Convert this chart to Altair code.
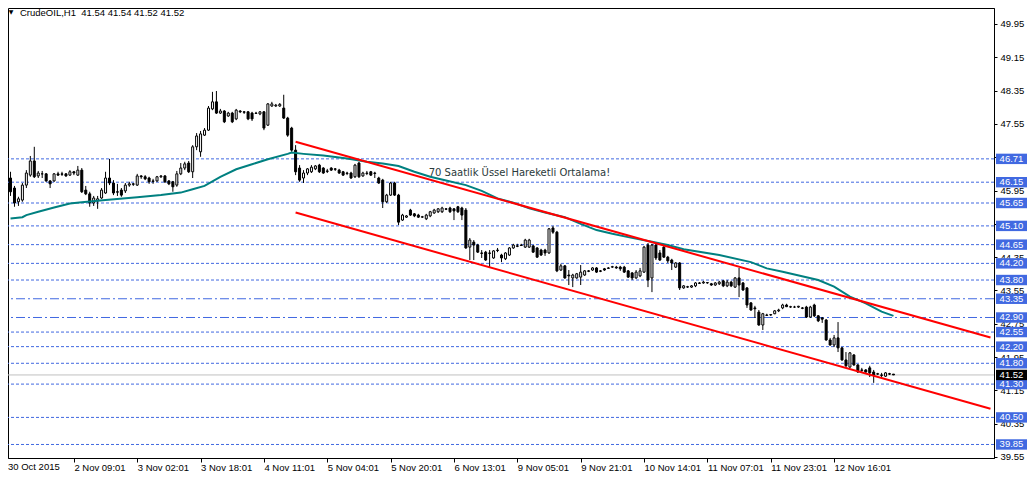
import altair as alt
import pandas as pd

# ---------------- data ----------------
opens = [
    46.25, 46.01, 45.68, 45.72, 46.08, 46.32, 46.66, 46.30, 46.35, 46.35,
    46.18, 46.18, 46.35, 46.35, 46.35, 46.32, 46.40, 46.32, 46.44, 45.96,
    45.87, 45.65, 45.70, 45.77, 45.89, 46.25, 46.13, 45.92, 45.96, 45.94,
    46.08, 46.11, 46.08, 46.30, 46.28, 46.25, 46.18, 46.18, 46.28, 46.30,
    46.18, 46.16, 46.08, 46.35, 46.49, 46.61, 46.40, 47.00, 46.88, 47.28,
    47.40, 47.91, 48.08, 47.81, 47.86, 47.74, 47.81, 47.67, 47.86, 47.84,
    47.84, 47.81, 47.81, 47.79, 47.84, 47.52, 47.98, 47.98, 47.98, 47.93,
    47.69, 47.45, 46.92, 46.49, 46.25, 46.37, 46.40, 46.47, 46.56, 46.49,
    46.42, 46.49, 46.47, 46.44, 46.40, 46.37, 46.37, 46.28, 46.61, 46.30,
    46.37, 46.40, 46.37, 46.25, 46.20, 45.68, 45.84, 46.13, 45.84, 45.24,
    45.31, 45.48, 45.39, 45.36, 45.31, 45.27, 45.34, 45.41, 45.44, 45.44,
    45.51, 45.53, 45.51, 45.56, 45.53, 45.48, 44.59, 44.71, 44.64, 44.45,
    44.47, 44.45, 44.33, 44.52, 44.40, 44.31, 44.40, 44.57, 44.62, 44.64,
    44.59, 44.59, 44.62, 44.57, 44.52, 44.52, 44.45, 45.05, 44.95, 44.04,
    44.14, 43.92, 43.85, 43.85, 43.87, 43.92, 44.02, 44.04, 44.09, 44.02,
    44.07, 44.09, 44.11, 44.11, 44.11, 44.11, 44.02, 43.97, 43.85, 43.90,
    43.99, 44.64, 43.85, 44.64, 44.45, 44.59, 44.35, 44.28, 44.11, 44.21,
    43.61, 43.63, 43.63, 43.66, 43.73, 43.73, 43.73, 43.71, 43.68, 43.71,
    43.78, 43.66, 43.75, 43.63, 43.85, 43.73, 43.61, 43.25, 43.13, 43.03,
    42.72, 42.96, 42.96, 42.99, 43.06, 43.13, 43.20, 43.15, 43.15, 43.15,
    43.13, 43.15, 42.91, 43.20, 42.94, 42.89, 42.84, 42.36, 42.24, 42.41,
    42.17, 41.88, 41.71, 42.00, 41.76, 41.64, 41.64, 41.69, 41.59, 41.54,
    41.52, 41.49, 41.55, 41.54,
]
highs = [
    46.40, 46.06, 45.80, 46.13, 46.44, 46.78, 47.00, 46.42, 46.42, 46.37,
    46.20, 46.37, 46.40, 46.40, 46.37, 46.44, 46.42, 46.54, 46.49, 46.06,
    45.92, 45.82, 45.82, 46.01, 46.40, 46.71, 46.20, 46.11, 46.01, 46.13,
    46.16, 46.13, 46.35, 46.32, 46.32, 46.28, 46.23, 46.30, 46.32, 46.32,
    46.20, 46.18, 46.42, 46.61, 46.64, 46.66, 47.04, 47.33, 47.38, 47.45,
    47.98, 48.32, 48.34, 47.91, 47.88, 47.84, 47.84, 47.91, 47.88, 47.86,
    47.86, 47.84, 47.84, 47.86, 47.86, 48.05, 48.08, 48.03, 48.05, 48.25,
    47.72, 47.48, 47.04, 46.56, 46.44, 46.49, 46.56, 46.56, 46.59, 46.51,
    46.47, 46.51, 46.49, 46.47, 46.42, 46.40, 46.40, 46.59, 46.64, 46.40,
    46.42, 46.42, 46.40, 46.28, 46.23, 45.87, 46.16, 46.16, 45.87, 45.39,
    45.36, 45.51, 45.41, 45.39, 45.34, 45.39, 45.46, 45.51, 45.53, 45.56,
    45.53, 45.56, 45.53, 45.58, 45.56, 45.53, 44.81, 44.76, 44.67, 44.52,
    44.50, 44.52, 44.52, 44.57, 44.43, 44.47, 44.59, 44.67, 44.67, 44.67,
    44.79, 44.79, 44.64, 44.59, 44.55, 44.55, 45.05, 45.10, 44.98, 44.19,
    44.16, 44.04, 43.95, 43.97, 44.16, 44.04, 44.04, 44.11, 44.11, 44.04,
    44.09, 44.11, 44.14, 44.14, 44.14, 44.14, 44.04, 43.99, 44.04, 44.09,
    44.62, 44.69, 44.67, 44.67, 44.52, 44.64, 44.38, 44.31, 44.23, 44.23,
    43.68, 43.66, 43.68, 43.75, 43.75, 43.78, 43.75, 43.73, 43.75, 43.78,
    43.80, 43.80, 43.78, 43.87, 44.09, 43.75, 43.63, 43.27, 43.18, 43.08,
    43.01, 42.99, 42.98, 43.08, 43.11, 43.23, 43.23, 43.18, 43.18, 43.18,
    43.15, 43.18, 43.18, 43.23, 42.96, 42.91, 42.86, 42.41, 42.48, 42.79,
    42.19, 42.07, 42.07, 42.02, 41.78, 41.69, 41.66, 41.74, 41.64, 41.57,
    41.57, 41.59, 41.57, 41.54,
]
lows = [
    45.82, 45.56, 45.58, 45.68, 46.01, 46.28, 46.25, 46.25, 46.25, 46.16,
    46.01, 46.16, 46.30, 46.30, 46.28, 46.30, 46.32, 46.30, 45.89, 45.84,
    45.56, 45.58, 45.51, 45.75, 45.87, 46.08, 45.84, 45.82, 45.80, 45.89,
    46.04, 46.06, 46.06, 46.23, 46.20, 46.11, 46.11, 46.16, 46.25, 46.13,
    46.08, 45.92, 46.04, 46.32, 46.44, 46.37, 46.25, 46.92, 46.76, 47.26,
    47.38, 47.88, 47.79, 47.79, 47.57, 47.72, 47.57, 47.64, 47.81, 47.79,
    47.64, 47.62, 47.79, 47.76, 47.40, 47.50, 47.96, 47.96, 47.96, 47.67,
    47.24, 46.88, 46.32, 46.16, 46.13, 46.32, 46.37, 46.44, 46.37, 46.35,
    46.37, 46.42, 46.42, 46.35, 46.30, 46.32, 46.23, 46.25, 46.25, 46.28,
    46.32, 46.30, 46.25, 46.11, 45.53, 45.65, 45.82, 45.82, 45.12, 45.22,
    45.29, 45.34, 45.31, 45.29, 45.29, 45.24, 45.31, 45.39, 45.41, 45.41,
    45.48, 45.41, 45.24, 45.41, 45.24, 44.55, 44.28, 44.28, 44.45, 44.33,
    44.26, 44.11, 44.31, 44.47, 44.23, 44.28, 44.38, 44.55, 44.59, 44.62,
    44.57, 44.57, 44.45, 44.33, 44.38, 44.38, 44.43, 44.91, 43.99, 44.02,
    43.83, 43.68, 43.63, 43.83, 43.68, 43.90, 43.99, 44.02, 43.97, 43.99,
    44.02, 44.07, 44.09, 44.07, 44.02, 43.97, 43.85, 43.80, 43.83, 43.87,
    43.97, 43.63, 43.51, 44.28, 44.26, 44.33, 44.21, 44.04, 44.09, 43.56,
    43.59, 43.61, 43.61, 43.63, 43.71, 43.71, 43.71, 43.66, 43.66, 43.68,
    43.63, 43.63, 43.63, 43.61, 43.39, 43.54, 43.13, 43.06, 42.89, 42.70,
    42.60, 42.94, 42.94, 42.98, 43.03, 43.10, 43.15, 43.13, 43.13, 43.13,
    43.10, 42.89, 42.89, 42.91, 42.79, 42.77, 42.34, 42.22, 42.19, 42.07,
    41.86, 41.69, 41.69, 41.74, 41.57, 41.59, 41.57, 41.47, 41.33, 41.52,
    41.47, 41.47, 41.52, 41.52,
]
closes = [
    45.92, 45.65, 45.75, 46.08, 46.37, 46.66, 46.28, 46.37, 46.35, 46.18,
    46.11, 46.35, 46.32, 46.34, 46.30, 46.40, 46.37, 46.44, 45.92, 45.87,
    45.65, 45.77, 45.75, 45.96, 46.25, 46.13, 45.89, 45.91, 45.84, 46.08,
    46.11, 46.10, 46.30, 46.28, 46.23, 46.16, 46.17, 46.28, 46.30, 46.16,
    46.11, 46.04, 46.35, 46.49, 46.59, 46.40, 47.00, 47.26, 47.31, 47.40,
    47.93, 48.08, 47.81, 47.86, 47.60, 47.81, 47.60, 47.88, 47.84, 47.83,
    47.67, 47.67, 47.80, 47.84, 47.45, 48.03, 48.03, 48.00, 48.02, 47.69,
    47.28, 46.92, 46.40, 46.20, 46.37, 46.47, 46.51, 46.54, 46.40, 46.37,
    46.41, 46.44, 46.46, 46.37, 46.32, 46.36, 46.25, 46.56, 46.28, 46.37,
    46.36, 46.32, 46.36, 46.13, 45.68, 45.84, 46.13, 45.84, 45.19, 45.36,
    45.34, 45.36, 45.34, 45.31, 45.32, 45.36, 45.44, 45.48, 45.51, 45.53,
    45.50, 45.44, 45.46, 45.44, 45.36, 44.57, 44.76, 44.64, 44.47, 44.44,
    44.28, 44.44, 44.50, 44.51, 44.33, 44.45, 44.57, 44.64, 44.61, 44.63,
    44.76, 44.76, 44.47, 44.35, 44.40, 44.45, 45.03, 44.95, 44.02, 44.14,
    43.85, 43.90, 43.92, 43.95, 43.99, 44.02, 44.01, 44.09, 43.99, 44.01,
    44.04, 44.08, 44.12, 44.09, 44.07, 43.99, 43.87, 43.85, 43.99, 44.02,
    44.59, 43.80, 44.64, 44.33, 44.28, 44.35, 44.26, 44.21, 44.21, 43.61,
    43.66, 43.64, 43.66, 43.73, 43.72, 43.75, 43.74, 43.68, 43.73, 43.75,
    43.66, 43.75, 43.66, 43.85, 43.68, 43.56, 43.20, 43.08, 43.11, 42.72,
    42.99, 42.95, 42.97, 43.06, 43.08, 43.20, 43.16, 43.16, 43.15, 43.17,
    43.12, 42.91, 43.15, 42.94, 42.82, 42.86, 42.36, 42.24, 42.41, 42.17,
    41.88, 41.74, 42.05, 41.76, 41.59, 41.63, 41.59, 41.57, 41.52, 41.55,
    41.51, 41.57, 41.54, 41.52,
]

# 70-period EMA (bar index, price)
ema_bars = [0, 3, 4, 7, 11, 15, 18, 24, 32, 38, 43, 46, 49, 53, 57, 61, 65, 70,
            71, 74, 79, 85, 90, 94, 98, 102, 106, 110, 115, 119, 123, 127, 131,
            135, 140, 144, 148, 152, 156, 162, 166, 170, 179, 187, 191, 195, 204,
            208, 212, 216, 220, 223]
ema_vals = [45.28, 45.31, 45.36, 45.44, 45.54, 45.64, 45.67, 45.72, 45.79, 45.84,
            45.90, 45.98, 46.06, 46.28, 46.46, 46.58, 46.70, 46.83, 46.86, 46.83,
            46.79, 46.72, 46.64, 46.60, 46.54, 46.40, 46.28, 46.19, 46.08, 45.94,
            45.76, 45.66, 45.52, 45.42, 45.31, 45.15, 45.00, 44.91, 44.83, 44.72,
            44.64, 44.54, 44.40, 44.23, 44.08, 44.00, 43.80, 43.64, 43.40, 43.24,
            43.04, 42.94]

# trend channel end points (bar index, price)
upper_bars = [72, 247.5]
upper_vals = [47.12, 42.42]
lower_bars = [72, 247.5]
lower_vals = [45.42, 40.71]

# horizontal levels
dotted_levels = [46.71, 46.15, 45.65, 45.10, 44.65, 44.20, 43.80,
                 42.55, 42.20, 41.80, 41.30, 40.50, 39.85]
dashdot_levels = [43.35, 42.90]
current_price = 41.52

# axes
y_ticks = [49.95, 49.15, 48.35, 47.55, 46.75, 45.95, 45.15, 44.35,
           43.55, 42.75, 41.95, 41.15, 40.35, 39.55]
x_tick_bars = [16, 32, 48, 64, 80, 96, 112, 128, 144, 160, 176, 192, 208]
x_tick_labels = ["2 Nov 09:01", "3 Nov 02:01", "3 Nov 18:01",
                 "4 Nov 11:01", "5 Nov 04:01", "5 Nov 20:01", "6 Nov 13:01",
                 "9 Nov 05:01", "9 Nov 21:01", "10 Nov 14:01", "11 Nov 07:01",
                 "11 Nov 23:01", "12 Nov 16:01"]
first_label = "30 Oct 2015"

title_text = "CrudeOIL,H1\u00a0\u00a041.54 41.54 41.52 41.52"
note_text = "70 Saatlik Üssel Hareketli Ortalama!"
note_bar = 105.6
note_price = 46.37

# ---------------- chart ----------------
W, H = 986, 450
FONT = "Liberation Sans"
BLUE = "#4169E1"

xscale = alt.Scale(domain=[0.625, 247.125], nice=False, zero=False)
yscale = alt.Scale(domain=[39.525, 50.334], nice=False, zero=False)

label_js = "[" + ",".join("'" + s + "'" for s in x_tick_labels) + "]"
xaxis = alt.Axis(values=x_tick_bars, labelExpr=label_js + "[round(datum.value/16) - 1]",
                 labelAlign="left", labelBaseline="top", labelPadding=0,
                 tickSize=4, grid=False, title=None, labelOverlap=False,
                 labelFlush=False, labelBound=False)
yaxis = alt.Axis(orient="right", values=y_ticks, format=".2f", tickSize=3,
                 labelPadding=3, grid=False, title=None, labelOverlap=False,
                 labelFlush=False, labelBound=False)


def X(f):
    return alt.X(f, type="quantitative", scale=xscale, axis=xaxis)


def Y(f):
    return alt.Y(f, type="quantitative", scale=yscale, axis=yaxis)


candles = pd.DataFrame({"bar": list(range(len(closes))), "open": opens,
                        "high": highs, "low": lows, "close": closes})

lv = pd.DataFrame({"price": dotted_levels})
dd = pd.DataFrame({"price": dashdot_levels})
cur = pd.DataFrame({"price": [current_price]})

level_layer = alt.Chart(lv).mark_rule(color=BLUE, strokeWidth=1, strokeDash=[3, 2]).encode(y=Y("price"))
dashdot_layer = alt.Chart(dd).mark_rule(color=BLUE, strokeWidth=1, strokeDash=[9, 3, 2, 3]).encode(y=Y("price"))
cur_layer = alt.Chart(cur).mark_rule(color="#C0C0C0", strokeWidth=1).encode(y=Y("price"))

wicks = alt.Chart(candles).mark_rule(color="black", strokeWidth=1, clip=True).encode(
    x=X("bar"), y=Y("low"), y2="high:Q")
bodies = alt.Chart(candles).mark_bar(size=2, stroke="black", strokeWidth=1, clip=True).encode(
    x=X("bar"), y=Y("open"), y2="close:Q",
    fill=alt.condition("datum.close >= datum.open", alt.value("white"), alt.value("black")))

ema_df = pd.DataFrame({"bar": ema_bars, "price": ema_vals})
ema_layer = alt.Chart(ema_df).mark_line(color="#008080", strokeWidth=2, clip=True).encode(
    x=X("bar"), y=Y("price"))

trend_df = pd.DataFrame({"bar": upper_bars + lower_bars,
                         "price": upper_vals + lower_vals,
                         "line": ["upper", "upper", "lower", "lower"]})
trend_layer = alt.Chart(trend_df).mark_line(color="#FF0000", strokeWidth=2, clip=True).encode(
    x=X("bar"), y=Y("price"), detail="line:N")

note_df = pd.DataFrame({"bar": [note_bar], "price": [note_price], "t": [note_text]})
note_layer = alt.Chart(note_df).mark_text(align="left", baseline="middle", font="DejaVu Sans",
                                          fontSize=10, color="#2B3A3A").encode(
    x=X("bar"), y=Y("price"), text="t:N")

box_df = pd.DataFrame({"price": dotted_levels + dashdot_levels})
boxes = alt.Chart(box_df).transform_calculate(
    top="datum.price + 0.125", bot="datum.price - 0.125"
).mark_rect(color=BLUE, clip=False).encode(
    x=alt.value(W + 2), x2=alt.value(W + 33), y=Y("top"), y2="bot:Q")
box_text = alt.Chart(box_df).mark_text(color="white", font=FONT, fontSize=9.5,
                                       align="center", baseline="middle", clip=False).encode(
    x=alt.value(W + 17.5), y=Y("price"), text=alt.Text("price:Q", format=".2f"))

cur_box = alt.Chart(cur).transform_calculate(
    top="datum.price + 0.125", bot="datum.price - 0.125"
).mark_rect(color="black", clip=False).encode(
    x=alt.value(W + 2), x2=alt.value(W + 33), y=Y("top"), y2="bot:Q")
cur_text = alt.Chart(cur).mark_text(color="white", font=FONT, fontSize=9.5,
                                    align="center", baseline="middle", clip=False).encode(
    x=alt.value(W + 17.5), y=Y("price"), text=alt.Text("price:Q", format=".2f"))

# first date label sits at the very left edge of the plot
first_df = pd.DataFrame({"t": [first_label]})
first_layer = alt.Chart(first_df).mark_text(align="left", baseline="top", font=FONT,
                                            fontSize=9.5, color="black", clip=False).encode(
    x=alt.value(0), y=alt.value(H + 4), text="t:N")

title_df = pd.DataFrame({"t": [title_text]})
title_layer = alt.Chart(title_df).mark_text(align="left", baseline="middle", font=FONT,
                                            fontSize=9.5, color="black").encode(
    x=alt.value(12), y=alt.value(5), text="t:N")
tri_df = pd.DataFrame({"t": ["\u25BC"]})
tri_layer = alt.Chart(tri_df).mark_text(align="center", baseline="middle", font="DejaVu Sans",
                                        fontSize=6, color="black").encode(
    x=alt.value(3), y=alt.value(4), text="t:N")

chart = alt.layer(
    level_layer, dashdot_layer, cur_layer, wicks, bodies, ema_layer, trend_layer,
    note_layer, boxes, box_text, cur_box, cur_text, first_layer, title_layer, tri_layer
).properties(
    width=W, height=H,
    autosize=alt.AutoSizeParams(type="none"),
    padding={"left": 0, "top": 0, "right": 34, "bottom": 13},
    background="white"
).configure_view(
    stroke="black", strokeWidth=1
).configure_axis(
    domainColor="black", tickColor="black", labelColor="black",
    labelFont=FONT, labelFontSize=9.5, domainWidth=1, tickWidth=1
)

chart.save("out.html", embed_options={"renderer": "svg", "actions": False})
